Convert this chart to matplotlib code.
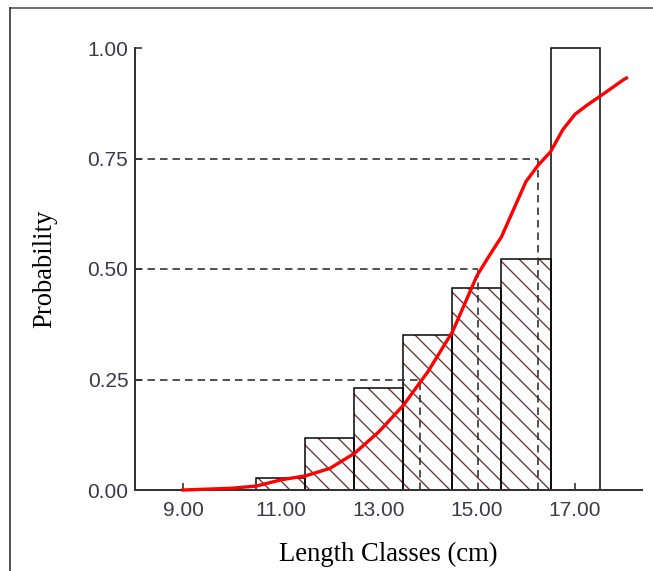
import matplotlib
matplotlib.use("Agg")
import matplotlib.pyplot as plt
from matplotlib.lines import Line2D

# length class midpoints (cm) and observed proportion retained
class_mid = [11, 12, 13, 14, 15, 16, 17]
class_prob = [0.027, 0.118, 0.231, 0.351, 0.457, 0.523, 1.00]
hatched = [True, True, True, True, True, True, False]

# fitted selection curve
curve_len = [9.0, 9.5, 10.0, 10.5, 11.0, 11.5, 12.0, 12.5, 13.0, 13.5, 14.0,
             14.5, 15.0, 15.25, 15.5, 16.0, 16.25, 16.5, 16.75, 17.0, 17.25,
             17.5, 18.0, 18.05]
curve_prob = [0.0, 0.002, 0.004, 0.009, 0.023, 0.032, 0.049, 0.083, 0.132,
              0.192, 0.268, 0.358, 0.485, 0.530, 0.573, 0.698, 0.735, 0.765,
              0.815, 0.850, 0.871, 0.890, 0.929, 0.932]

# L25, L50, L75 selection lengths
sel_prob = [0.25, 0.50, 0.75]
sel_len = [13.84, 15.02, 16.24]

x_ticks = [9, 11, 13, 15, 17]
y_ticks = [0.0, 0.25, 0.5, 0.75, 1.0]

plt.rcParams['hatch.linewidth'] = 0.8
plt.rcParams['lines.scale_dashes'] = False

dpi = 120
fig = plt.figure(figsize=(653 / dpi, 571 / dpi), dpi=dpi)
ax = fig.add_axes([135 / 653, 1 - 490 / 571, (642 - 135) / 653, (490 - 48) / 571])

for xm, p, h in zip(class_mid, class_prob, hatched):
    if h:
        # hatch layer in a dark maroon, outline drawn separately
        ax.bar(xm, p, width=1.0, facecolor='white', edgecolor='#6b3535',
               linewidth=0, hatch='\\\\', zorder=2)
    ax.bar(xm, p, width=1.0, fill=False, edgecolor='black',
           linewidth=0.9, clip_on=False, zorder=2.5)

xmin = 9 - 48 / 49
for p, L in zip(sel_prob, sel_len):
    ax.plot([xmin, L], [p, p], color='#333333', lw=1.0, dashes=(4.5, 3), zorder=3)
    ax.plot([L, L], [0, p], color='#333333', lw=1.0, dashes=(4.5, 3), zorder=3)

ax.plot(curve_len, curve_prob, color='#ff0000', lw=2.0, zorder=4,
        clip_on=False, solid_joinstyle='round')

ax.set_xlim(xmin, xmin + 507 / 49)
ax.set_ylim(0, 1)
ax.set_xticks(x_ticks)
ax.set_xticklabels(["%.2f" % v for v in x_ticks])
ax.set_yticks(y_ticks)
ax.set_yticklabels(["%.2f" % v for v in y_ticks])

for s in ['top', 'right']:
    ax.spines[s].set_visible(False)
for s in ['left', 'bottom']:
    ax.spines[s].set_linewidth(1.2)
    ax.spines[s].set_color('#333333')

ax.tick_params(axis='both', direction='in', length=4.2, width=1.0,
               color='#333333', labelsize=12.5, labelcolor='#3a3a48',
               labelfontfamily='Liberation Sans')
ax.tick_params(axis='x', pad=6.5)
ax.tick_params(axis='y', pad=4)

ax.set_xlabel("Length Classes (cm)", family='Liberation Serif', fontsize=16,
              labelpad=13)
ax.set_ylabel("Probability", family='Liberation Serif', fontsize=16,
              labelpad=18)

# thin frame along the top and left of the figure
fig.add_artist(Line2D([10 / 653, 1], [1 - 8 / 571, 1 - 8 / 571],
                      color='#555555', lw=1.0, transform=fig.transFigure))
fig.add_artist(Line2D([10 / 653, 10 / 653], [0, 1 - 8 / 571],
                      color='#333333', lw=1.0, transform=fig.transFigure))

fig.savefig("out.png", dpi=dpi)
